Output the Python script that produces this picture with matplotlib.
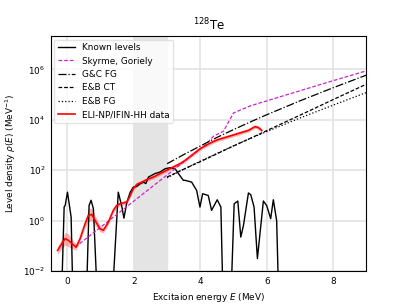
import numpy as np
import matplotlib
matplotlib.use("Agg")
import matplotlib.pyplot as plt

# Known levels (log10 density; very low values = no levels)
known_E = [-0.3, -0.2, -0.1, -0.07, 0.0, 0.11, 0.18, 0.3, 0.45, 0.55, 0.65, 0.71, 0.78, 0.93, 1.1, 1.31,
           1.53, 1.64, 1.70, 1.79, 1.89, 1.98, 2.09, 2.19, 2.29, 2.36, 2.44, 2.54, 2.64, 2.79, 2.94,
           3.09, 3.24, 3.34, 3.49, 3.54, 3.74, 3.89, 3.99, 4.07, 4.24, 4.34, 4.51, 4.62, 4.70, 4.8, 4.9,
           5.02, 5.13, 5.22, 5.30, 5.45, 5.52, 5.62, 5.72, 5.90, 6.00, 6.12, 6.20, 6.30, 6.38, 6.6, 9.0]
known_log = [-4, -4, 0.55, 0.6, 1.13, 0.14, -4, -4, -4, -4, 0.6, 0.81, 0.48, -4, -4, -4,
             1.13, 0.54, 0.1, 0.74, 1.13, 1.33, 1.36, 1.47, 1.53, 1.47, 1.73, 1.8, 1.87, 1.93, 2.06,
             2.1, 2.06, 1.87, 1.6, 1.6, 1.53, 1.2, 0.54, 1.07, 1.0, 0.41, 0.83, 0.54, -4, -4, -4,
             0.67, 0.78, -0.65, -0.19, 1.1, 1.03, 0.54, -1.5, 0.78, 0.6, 0.08, 0.83, 0.0, -4, -4, -4]

# Skyrme, Goriely
sky_E = [0.23, 4.15, 4.4, 4.7, 5.0, 5.5, 6.0, 7.0, 8.0, 9.0]
sky_log = [-1.05, 3.0, 3.35, 3.55, 4.27, 4.55, 4.75, 5.15, 5.55, 5.94]

# Model curves
mod_E = [3.0, 3.5, 4.0, 4.5, 5.0, 5.5, 6.0, 7.0, 8.0, 9.0]
gc_fg_log = [2.26, 2.62, 2.96, 3.30, 3.61, 3.91, 4.20, 4.75, 5.27, 5.77]
eb_ct_log = [1.73, 2.04, 2.34, 2.65, 2.96, 3.26, 3.57, 4.18, 4.80, 5.41]
eb_fg_log = [1.70, 2.04, 2.36, 2.67, 2.97, 3.26, 3.53, 4.07, 4.58, 5.08]

# ELI-NP/IFIN-HH data
eli_E = [-0.3, -0.17, -0.07, 0.03, 0.13, 0.26, 0.38, 0.53, 0.63, 0.73, 0.83, 0.98, 1.08, 1.23, 1.38,
         1.48, 1.58, 1.79, 1.89, 1.98, 2.09, 2.24, 2.39, 2.59, 2.79, 2.99, 3.19, 3.39, 3.54, 3.99,
         4.3, 4.5, 4.7, 4.9, 5.2, 5.45, 5.65, 5.75, 5.85]
eli_log = [-1.18, -0.91, -0.71, -0.78, -0.91, -1.05, -0.71, -0.12, 0.21, 0.25, 0.01, -0.32, -0.38, -0.06, 0.41,
           0.6, 0.67, 0.74, 1.0, 1.27, 1.44, 1.53, 1.63, 1.73, 1.87, 2.0, 2.13, 2.26, 2.39, 2.85,
           3.08, 3.2, 3.28, 3.36, 3.48, 3.58, 3.73, 3.69, 3.58]
eli_err = [0.15, 0.2, 0.25, 0.25, 0.2, 0.12, 0.1, 0.15, 0.25, 0.25, 0.2, 0.12, 0.1, 0.1, 0.1,
           0.1, 0.08, 0.08, 0.08, 0.08, 0.08, 0.07, 0.07, 0.07, 0.07, 0.07, 0.07, 0.07, 0.07, 0.07,
           0.07, 0.07, 0.07, 0.07, 0.07, 0.07, 0.07, 0.07, 0.07]

plt.rcParams['font.size'] = 6.4
fig = plt.figure(figsize=(4.07, 3.05), dpi=100)
ax = fig.add_axes([0.125, 0.111, 0.775, 0.771])

ax.axvspan(2, 3, color='#e4e4e4', zorder=0)

p = lambda v: 10 ** np.asarray(v, dtype=float)
ax.plot(known_E, p(known_log), color='black', lw=1.0, label='Known levels')
ax.plot(sky_E, p(sky_log), color='#cc22cc', lw=0.9, ls=(0, (3, 1.5)), label='Skyrme, Goriely')
ax.plot(mod_E, p(gc_fg_log), color='black', lw=0.9, ls='-.', label='G&C FG')
ax.plot(mod_E, p(eb_ct_log), color='black', lw=0.9, ls=(0, (3, 1.5)), label='E&B CT')
ax.plot(mod_E, p(eb_fg_log), color='black', lw=0.9, ls=':', label='E&B FG')
lo = np.asarray(eli_log) - np.asarray(eli_err)
hi = np.asarray(eli_log) + np.asarray(eli_err)
ax.fill_between(eli_E, p(lo), p(hi), color='red', alpha=0.3, lw=0)
ax.plot(eli_E, p(eli_log), color='red', lw=1.2, label='ELI-NP/IFIN-HH data')

ax.set_yscale('log')
ax.set_xlim(-0.5, 9)
ax.set_ylim(1e-2, 2.1e7)
ax.set_xticks([0, 2, 4, 6, 8])
ax.set_yticks([1e-2, 1e0, 1e2, 1e4, 1e6])
ax.minorticks_off()
ax.grid(True, color='#e3e3e3', lw=1.2)
ax.set_axisbelow(True)
ax.tick_params(length=0, pad=4)
ax.set_xlabel('Excitaion energy $E$ (MeV)')
ax.set_ylabel(r'Level density $\rho(E)$ (MeV$^{-1}$)')
ax.set_title(r'$^{128}$Te', fontsize=8.5, pad=4)
leg = ax.legend(loc='upper left', fontsize=6.4, handlelength=1.9, framealpha=0.8,
                edgecolor='#dddddd', borderaxespad=0.4)
fig.savefig('out.png', dpi=100)
